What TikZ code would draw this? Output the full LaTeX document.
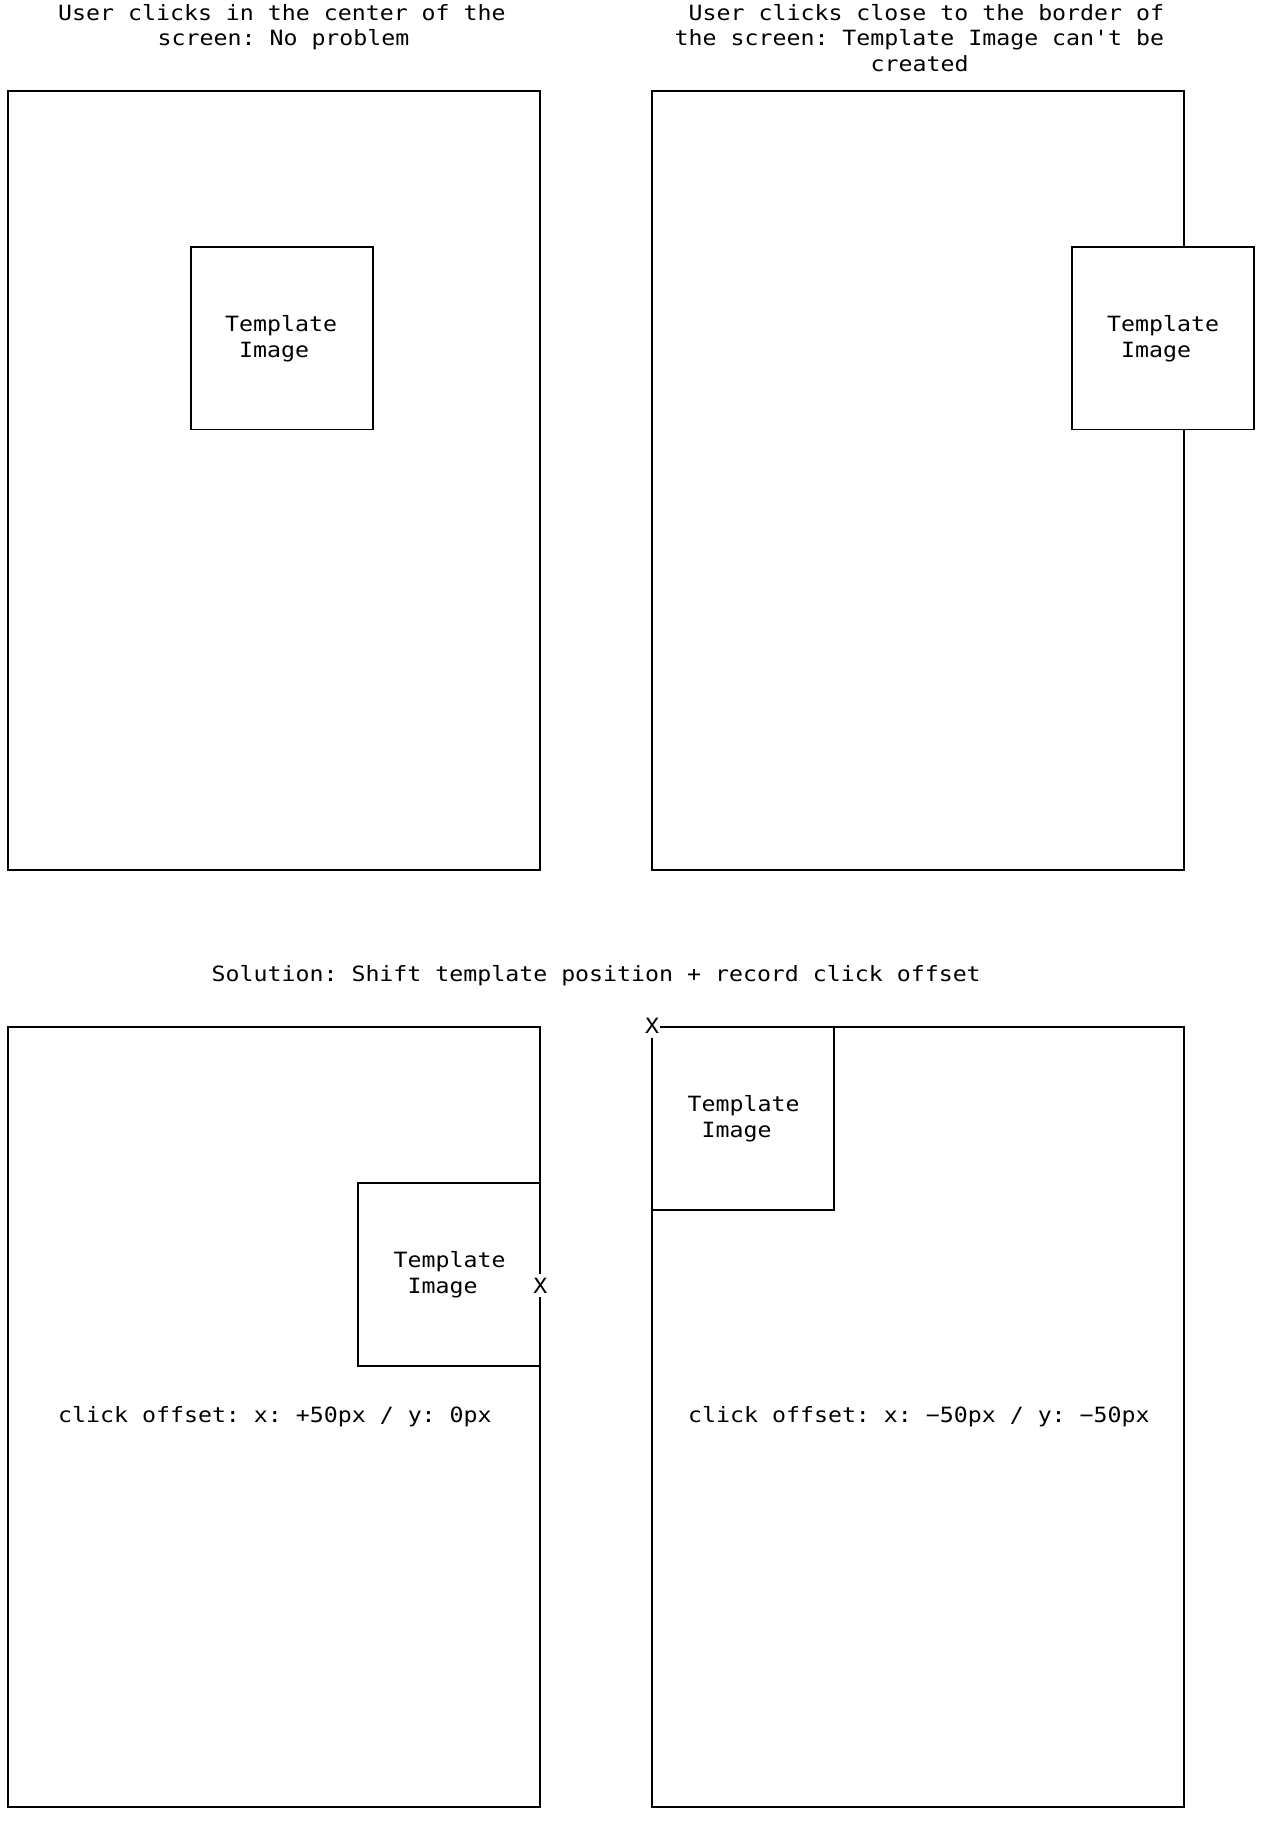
\documentclass[tikz,border=0pt]{standalone}
\usepackage{fontspec}
\newfontfamily\asciifont[FakeStretch=1.106]{DejaVu Sans Mono}
\begin{document}
\frenchspacing
\begin{tikzpicture}[x=1pt,y=-1pt,
  scr/.style={draw, line width=1.9pt, inner sep=0pt, outer sep=0pt, minimum width=532.3pt, minimum height=779.8pt},
  tpl/.style={draw, fill=white, line width=1.9pt, inner sep=0pt, outer sep=0pt, minimum width=182.1pt, minimum height=182.5pt},
  txt/.style={anchor=base west, inner sep=0pt, font=\asciifont\fontsize{21}{25}\selectfont},
  xmark/.style={anchor=base, fill=white, inner xsep=1pt, inner ysep=4pt, font=\asciifont\fontsize{21}{25}\selectfont}
]
\useasboundingbox (0,0) rectangle (1262,1822);
% screens
\node[scr] (s1) at (274.25,480.5) {};
\node[scr] (s2) at (918.05,480.5) {};
\node[scr] (s3) at (274.25,1417.2) {};
\node[scr] (s4) at (918.05,1417.2) {};
% template boxes
\node[tpl] (t1) at (281.65,338.25) {};
\node[tpl] (t2) at (1163.25,338.25) {};
\node[tpl] (t3) at (449.2,1274.4) {};
\node[tpl] (t4) at (743.1,1118.4) {};
% titles
\node[txt] (h1a) at (58,20.5) {User clicks in the center of the};
\node[txt] (h1b) at (157.5,46) {screen: No problem};
\node[txt] (h2a) at (688.5,20.5) {User clicks close to the border of};
\node[txt] (h2b) at (674.5,46) {the screen: Template Image can't be};
\node[txt] (h2c) at (870.5,71.5) {created};
\node[txt] (sol) at (211.5,981) {Solution: Shift template position + record click offset};
% template labels
\node[txt] (l1a) at (225,331.5) {Template};
\node[txt] (l1b) at (239,357.5) {Image};
\node[txt] (l2a) at (1107,331.5) {Template};
\node[txt] (l2b) at (1121,357.5) {Image};
\node[txt] (l3a) at (393.5,1267) {Template};
\node[txt] (l3b) at (407.5,1293) {Image};
\node[txt] (l4a) at (687.5,1111) {Template};
\node[txt] (l4b) at (701.5,1137) {Image};
% click markers
\node[xmark] (x1) at (540.4,1293.4) {X};
\node[xmark] (x2) at (652,1033.6) {X};
% offsets
\node[txt] (o1) at (58,1422.4) {click offset: x: +50px / y: 0px};
\node[txt] (o2) at (688,1422.4) {click offset: x: −50px / y: −50px};
\end{tikzpicture}
\end{document}
